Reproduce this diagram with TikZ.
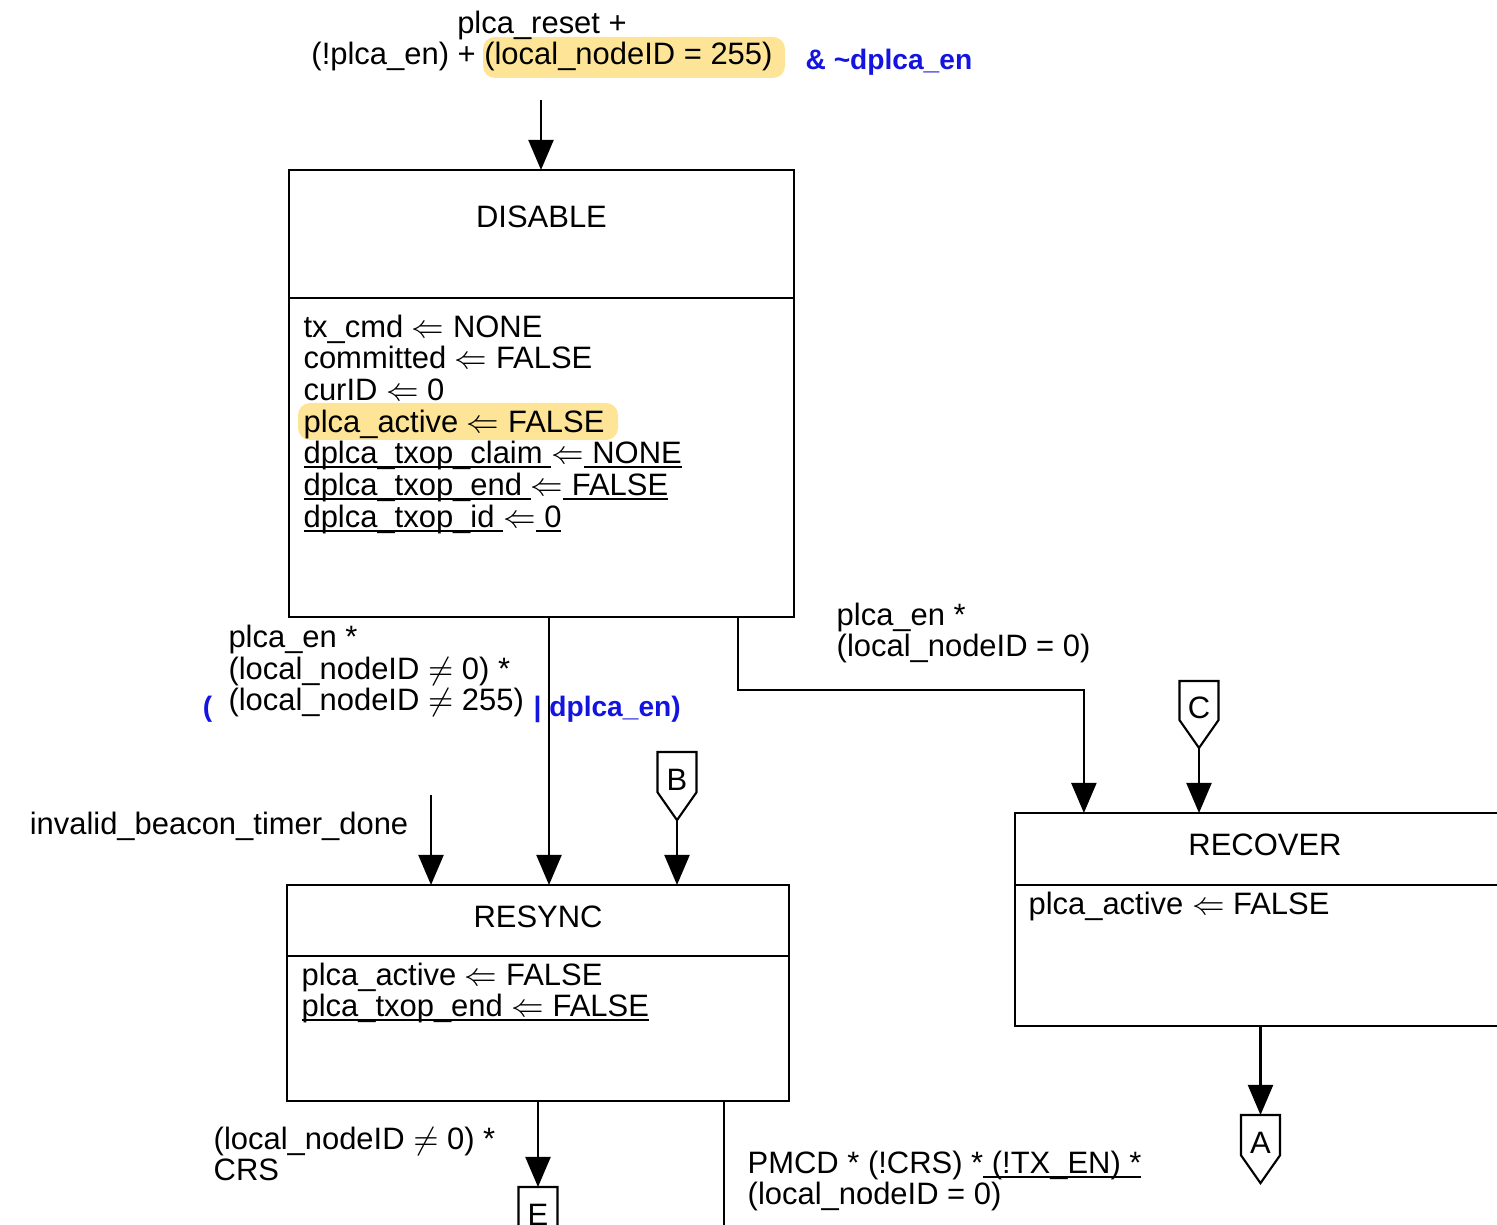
\documentclass[tikz,border=0pt]{standalone}
\usepackage{fontspec}
\setmainfont{Liberation Sans}
\usetikzlibrary{arrows.meta,positioning,shapes.symbols,backgrounds}
\definecolor{plcaBlue}{RGB}{20,20,225}
\definecolor{plcaMark}{RGB}{253,228,150}
\newcommand{\sdfont}{\fontsize{8.8pt}{9pt}\selectfont}
\newcommand{\ul}[1]{\setbox0=\hbox{#1}\rlap{\rule[-1.3pt]{\wd0}{0.55pt}}\box0}

\begin{document}
\begin{tikzpicture}[x=0.01cm,y=-0.01cm,font=\sdfont]
  \tikzset{
    state/.style={draw,line width=0.7pt,minimum width=5.02cm,inner sep=0pt,outer sep=0pt},
    acts/.style={align=left,inner sep=0pt,anchor=north west},
    cond/.style={align=left,inner sep=0pt},
    added/.style={text=plcaBlue,inner sep=0pt,font=\fontsize{8pt}{9pt}\selectfont\bfseries},
    flow/.style={line width=0.6pt,-{Triangle[length=0.3cm,width=0.25cm]}},
    offpg/.style={draw,line width=0.6pt,shape=signal,signal to=south,signal pointer angle=70,minimum width=0.39cm,minimum height=0.55cm,text height=0.36cm,inner sep=0pt,outer sep=0pt},
    marker/.style={fill=plcaMark,rounded corners=0.12cm}
  }
  \useasboundingbox (0,0) rectangle (1497,1225);
  \clip (0,0) rectangle (1497,1225);

  % entry condition
  \node[cond,align=center,anchor=north] (reset) at (542,10) {plca\_reset +\\(!plca\_en) + (local\_nodeID = 255)};
  \node[added,anchor=base west] (reset-d) at (805,70) {\& \textasciitilde dplca\_en};
  \coordinate (entry) at (541,100);

  % DISABLE
  \node[state,minimum width=5.05cm,minimum height=1.28cm,text depth=0.34cm] (disable-h) at (541.5,234) {DISABLE};
  \node[state,minimum width=5.05cm,minimum height=3.19cm,below=0pt of disable-h] (disable-b) {};
  \node[acts] (disable-a) at ([xshift=0.14cm,yshift=-0.16cm]disable-b.north west)
    {tx\_cmd $\Leftarrow$ NONE\\
     committed $\Leftarrow$ FALSE\\
     curID $\Leftarrow$ 0\\
     plca\_active $\Leftarrow$ FALSE\\
     \ul{dplca\_txop\_claim }$\Leftarrow$\ul{ NONE}\\
     \ul{dplca\_txop\_end }$\Leftarrow$\ul{ FALSE}\\
     \ul{dplca\_txop\_id }$\Leftarrow$\ul{ 0}};

  % RESYNC
  \node[state,minimum height=0.71cm,text depth=0.08cm] (resync-h) at (538,920.5) {RESYNC};
  \node[state,minimum height=1.45cm,below=0pt of resync-h] (resync-b) {};
  \node[acts] (resync-a) at ([xshift=0.14cm,yshift=-0.06cm]resync-b.north west)
    {plca\_active $\Leftarrow$ FALSE\\
     \ul{plca\_txop\_end $\Leftarrow$ FALSE}};

  % RECOVER
  \node[state,minimum width=5cm,minimum height=0.72cm,text depth=0.08cm] (recover-h) at (1265,849) {RECOVER};
  \node[state,minimum width=5cm,minimum height=1.41cm,below=0pt of recover-h] (recover-b) {};
  \node[acts] (recover-a) at ([xshift=0.13cm,yshift=-0.06cm]recover-b.north west) {plca\_active $\Leftarrow$ FALSE};

  % off-page connectors
  \node[offpg,anchor=north] (conn-b) at (677,752) {B};
  \node[offpg,anchor=north] (conn-c) at (1199,681) {C};
  \node[offpg,anchor=north] (conn-a) at (1260.5,1115) {A};
  \node[offpg,anchor=north] (conn-e) at (538,1187) {E};
  \coordinate (timer) at (431,795);
  \coordinate (exit) at (724,1240);

  % transitions
  \draw[flow] (entry) -- (entry |- disable-h.north);
  \draw[flow] ([xshift=0.075cm]disable-b.south) -- ([xshift=0.075cm]disable-b.south |- resync-h.north);
  \draw[flow] ([xshift=1.965cm]disable-b.south) -- ++(0,73) -| ([xshift=-1.81cm]recover-h.north);
  \draw[flow] (conn-c.south) -- (conn-c.south |- recover-h.north);
  \draw[flow] (conn-b.south) -- (conn-b.south |- resync-h.north);
  \draw[flow] (timer) -- (timer |- resync-h.north);
  \draw[flow] (resync-b.south) -- (conn-e.north);
  \draw[line width=0.6pt] (resync-b.south -| exit) -- (exit);
  \draw[flow] (recover-b.south -| conn-a) -- (conn-a.north);

  % transition labels
  \node[cond,anchor=north west] (to-resync) at ([xshift=-0.61cm,yshift=-0.07cm]disable-b.south west)
    {plca\_en *\\(local\_nodeID $\neq$ 0) *\\(local\_nodeID $\neq$ 255)};
  \node[added,anchor=base east] (to-resync-o) at (213,717) {(};
  \node[added,anchor=base west] (to-resync-d) at (533,717) {| dplca\_en)};
  \node[cond,anchor=north west] (to-recover) at (836,602) {plca\_en *\\(local\_nodeID = 0)};
  \node[cond,below left=0.16cm and 0.22cm of timer] (timer-l) {invalid\_beacon\_timer\_done};
  \node[cond,anchor=north west] (to-e) at (213,1126) {(local\_nodeID $\neq$ 0) *\\CRS};
  \node[cond,anchor=north west] (to-exit) at (747,1150)
    {PMCD * (!CRS) *\ul{ (!TX\_EN) *}\\(local\_nodeID = 0)};

  \begin{scope}[on background layer]
    \fill[marker] (483,37) rectangle (785,78);
    \fill[marker] (298,403) rectangle (618,440);
  \end{scope}
\end{tikzpicture}
\end{document}
